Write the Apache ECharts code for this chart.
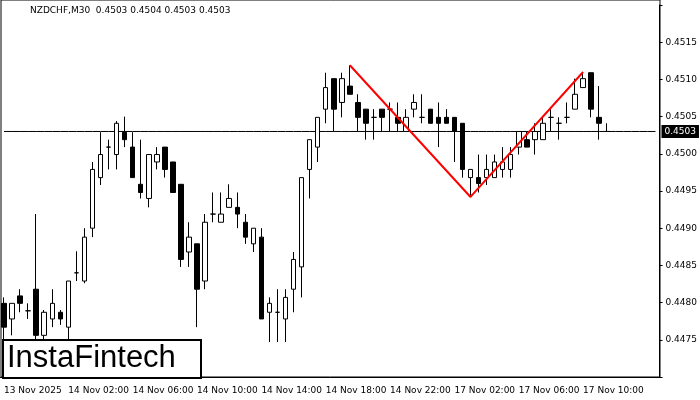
<!DOCTYPE html>
<html>
<head>
<meta charset="utf-8">
<script src="https://cdn.jsdelivr.net/npm/echarts@6/dist/echarts.min.js"></script>
<style>html,body{margin:0;padding:0;background:#fff}</style>
</head>
<body>
<div id="main" style="width:700px;height:400px"></div>
<script>
// M30 candles
var opens = [.44799,.44778,.44809,.44789,.44818,.44756,.44778,.44787,.44767,.44840,.44829,.44900,.44968,.45009,.44999,.45029,.45009,.44959,.44940,.44989,.45009,.44989,.44959,.44868,.44879,.44829,.44919,.44908,.44928,.44928,.44908,.44879,.44888,.44787,.44787,.44778,.44818,.44848,.44979,.45009,.45060,.45101,.45069,.45091,.45069,.45060,.45049,.45060,.45060,.45049,.45030,.45060,.45049,.45060,.45049,.45049,.45049,.45041,.44968,.44968,.44968,.44968,.44979,.44979,.45009,.45019,.45019,.45019,.45049,.45041,.45049,.45060,.45089,.45109,.45049,.45030];
var closes = [.44767,.44799,.44799,.44789,.44756,.44787,.44799,.44778,.44829,.44840,.44888,.44979,.44999,.45009,.45041,.45019,.44968,.44948,.44999,.44999,.44979,.44948,.44858,.44888,.44818,.44908,.44919,.44919,.44940,.44919,.44888,.44900,.44778,.44799,.44787,.44807,.44858,.44968,.45019,.45049,.45089,.45060,.45101,.45080,.45049,.45041,.45049,.45049,.45060,.45041,.45049,.45069,.45049,.45041,.45041,.45041,.45030,.44979,.44979,.44960,.44979,.44989,.44989,.44999,.45030,.45009,.45030,.45041,.45049,.45041,.45049,.45080,.45101,.45060,.45041,.45030];
var lows = [.44750,.44756,.44787,.44778,.44743,.44750,.44767,.44770,.44750,.44829,.44826,.44888,.44958,.44979,.44979,.45009,.44968,.44940,.44928,.44979,.44968,.44948,.44848,.44848,.44767,.44818,.44908,.44908,.44928,.44900,.44879,.44868,.44778,.44747,.44747,.44747,.44787,.44807,.44940,.44989,.45041,.45030,.45049,.45080,.45030,.45019,.45019,.45030,.45030,.45030,.45030,.45049,.45041,.45041,.45009,.45041,.44989,.44968,.44942,.44948,.44958,.44968,.44968,.44968,.44999,.45009,.44999,.45019,.45030,.45019,.45041,.45060,.45089,.45049,.45019,.45030];
var highs = [.44807,.44799,.44818,.44799,.44919,.44790,.44818,.44790,.44829,.44869,.44900,.44989,.45029,.45019,.45044,.45050,.45029,.45019,.44999,.45009,.45009,.44989,.44959,.44908,.44879,.44919,.44948,.44948,.44959,.44948,.44919,.44900,.44900,.44807,.44818,.44818,.44868,.44968,.45019,.45049,.45109,.45101,.45109,.45119,.45080,.45060,.45060,.45060,.45069,.45069,.45060,.45080,.45080,.45060,.45069,.45060,.45049,.45041,.44979,.44999,.44999,.44999,.45009,.45009,.45030,.45030,.45041,.45049,.45060,.45049,.45069,.45101,.45109,.45109,.45091,.45041];
var tickLabels = ["13 Nov 2025","14 Nov 02:00","14 Nov 06:00","14 Nov 10:00","14 Nov 14:00","14 Nov 18:00","14 Nov 22:00","17 Nov 02:00","17 Nov 06:00","17 Nov 10:00"];
// pattern points: [candle index, price]
var patternPts = [[43, 0.45119], [58, 0.44942], [72, 0.45110]];
var lastPrice = 0.4503;

var nCats = 82;
var cats = [];
for (var i = 0; i < nCats; i++) cats.push(String(i));
var candles = opens.map(function (o, i) { return [o, closes[i], lows[i], highs[i]]; });

var chart = echarts.init(document.getElementById("main"));
chart.setOption({
  animation: false,
  textStyle: { fontFamily: "DejaVu Sans" },
  grid: { left: -1, right: 40, top: 5, bottom: 23 },
  xAxis: {
    type: "category",
    data: cats,
    boundaryGap: true,
    axisLine: { lineStyle: { color: "#000" } },
    axisTick: { show: false },
    axisLabel: {
      color: "#000", fontSize: 9, align: "left", margin: 9,
      interval: function (i) { return i % 8 === 0 && i / 8 < tickLabels.length; },
      formatter: function (v, i) { return tickLabels[i / 8] || ""; }
    },
    splitLine: { show: false }
  },
  yAxis: {
    type: "value",
    position: "right",
    min: 0.4470, max: 0.4520, interval: 0.0005,
    axisLine: { show: true, lineStyle: { color: "#000" } },
    axisTick: { show: true, length: 3, lineStyle: { color: "#000" } },
    axisLabel: {
      color: "#000", fontSize: 9, margin: 6,
      formatter: function (v) { return (v < 0.44745 || v > 0.45155) ? "" : v.toFixed(4); }
    },
    splitLine: { show: false }
  },
  series: [
    {
      type: "line",
      data: cats.map(function () { return lastPrice; }),
      symbol: "none", silent: true,
      lineStyle: { color: "#000", width: 1 },
      endLabel: { show: true, formatter: lastPrice.toFixed(4), color: "#fff", backgroundColor: "#000", fontSize: 9, padding: [2, 3], distance: 6 },
      z: 1
    },
    {
      type: "candlestick",
      data: candles,
      barWidth: 5,
      itemStyle: { color: "#fff", color0: "#000", borderColor: "#000", borderColor0: "#000", borderWidth: 1 },
      z: 3
    },
    {
      type: "line",
      data: patternPts.map(function (p) { return [String(p[0]), p[1]]; }),
      symbol: "none",
      lineStyle: { color: "#ff0000", width: 2 },
      z: 5
    }
  ],
  graphic: [
    { type: "rect", shape: { x: 1, y: 0, width: 659, height: 377 }, style: { fill: "none", stroke: "#000", lineWidth: 1 } },
    { type: "text", left: 30, top: 6, style: { text: "NZDCHF,M30  0.4503 0.4504 0.4503 0.4503", fontSize: 9, fill: "#000", fontFamily: "DejaVu Sans" } },
    { type: "rect", shape: { x: 3, y: 340, width: 198, height: 38 }, style: { fill: "#fff", stroke: "#000", lineWidth: 2 }, z: 10 },
    { type: "text", left: 7, top: 343, style: { text: "InstaFintech", fontSize: 31, fill: "#000", fontFamily: "Liberation Sans" }, z: 11 }
  ]
});
</script>
</body>
</html>
